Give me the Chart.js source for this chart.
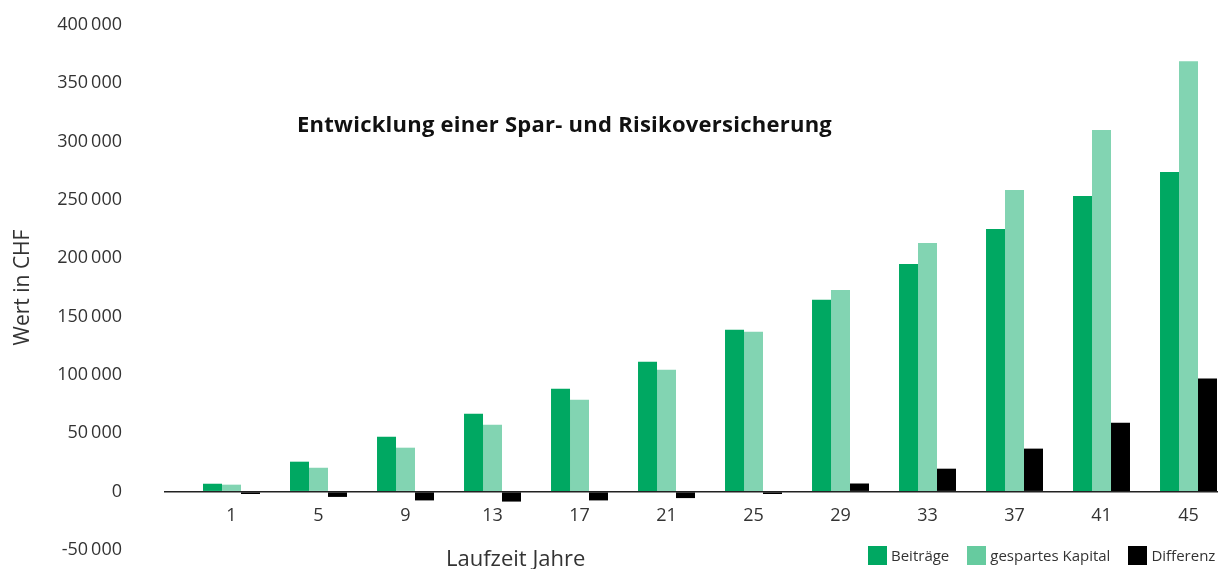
<!DOCTYPE html>
<html lang="de">
<head>
<meta charset="utf-8">
<title>Entwicklung einer Spar- und Risikoversicherung</title>
<script src="https://cdn.jsdelivr.net/npm/chart.js@4.4.1/dist/chart.umd.min.js"></script>
<style>
    html, body { margin: 0; padding: 0; background: #fff; }
    body { font-family: "Open Sans", sans-serif; color: #333; }
    .wrap { position: relative; width: 1218px; height: 569px; overflow: hidden; }
    canvas { display: block; }
    .chart-title { position: absolute; left: 297px; top: 109px; font-size: 22px; font-weight: 700; letter-spacing: 0.25px; line-height: 28px; color: #111; white-space: nowrap; }
    .x-title { position: absolute; left: 446px; top: 543px; font-size: 22px; line-height: 28px; white-space: nowrap; }
    .legend { position: absolute; left: 868px; top: 546px; display: flex; font-size: 15px; line-height: 19px; white-space: nowrap; }
    .legend-item { display: flex; align-items: center; margin-right: 18px; }
    .legend-item i { display: block; width: 19px; height: 19px; margin-right: 4px; }
</style>
</head>
<body>
<div class="wrap">
    <canvas id="savingsChart" width="1218" height="569"></canvas>
    <div class="chart-title">Entwicklung einer Spar- und Risikoversicherung</div>
    <div class="x-title">Laufzeit Jahre</div>
    <div class="legend" id="legend"></div>
</div>
<script>
// Spar- und Risikoversicherung | Laufzeit 1–45 Jahre

// ===================================================
// 1) Daten (CHF)
// ===================================================

const years = [1, 5, 9, 13, 17, 21, 25, 29, 33, 37, 41, 45];

const beitraege = [6800, 25700, 47100, 66800, 88200, 111300, 138700, 164400, 195200, 225100, 253400, 273900];
const kapital = [6000, 20500, 37700, 57400, 78800, 104400, 137000, 172900, 213100, 258500, 309900, 368900];
const differenz = [-2000, -4500, -7500, -8500, -7500, -5500, -2000, 7000, 19700, 36900, 59100, 96900];

const yMin = -50000;
const yMax = 400000;
const yStep = 50000;

// ===================================================
// 2) Farben & Hilfsfunktionen
// ===================================================

const GREEN = "#00A862";
const LIGHT_GREEN = "#82D4B2";
const BLACK = "#000000";
const TEXT = "#333333";

// 400000 -> "400 000" (schmales Leerzeichen)
function formatCHF(v) {
    return String(v).replace(/\B(?=(\d{3})+(?!\d))/g, "\u2009");
}

function toPoints(values) {
    return values.map((v, i) => ({ x: years[i], y: v }));
}

// ===================================================
// 3) Diagramm
// ===================================================

Chart.defaults.font.family = "'Open Sans', sans-serif";
Chart.defaults.color = TEXT;

const ctx = document.getElementById("savingsChart");

const chart = new Chart(ctx, {
    type: "bar",
    data: {
        datasets: [
            { label: "Beiträge", data: toPoints(beitraege), backgroundColor: GREEN, legendColor: GREEN },
            { label: "gespartes Kapital", data: toPoints(kapital), backgroundColor: LIGHT_GREEN, legendColor: "#66CB9F" },
            { label: "Differenz", data: toPoints(differenz), backgroundColor: BLACK, legendColor: BLACK }
        ]
    },
    options: {
        responsive: false,
        animation: false,
        layout: { padding: { top: 25, bottom: 19, left: 0, right: 0 } },
        datasets: {
            bar: { categoryPercentage: 0.655, barPercentage: 1 }
        },
        plugins: {
            legend: { display: false }
        },
        scales: {
            x: {
                type: "linear",
                position: { y: 0 },
                offset: false,
                // Achse etwas breiter als die Gruppen, wie im Original
                min: -2.104,
                max: 46.356,
                grid: { display: false },
                border: { display: false },
                afterBuildTicks: (axis) => {
                    axis.ticks = years.map(v => ({ value: v }));
                },
                ticks: {
                    padding: 5,
                    font: { size: 18 },
                    callback: (v) => String(v)
                }
            },
            y: {
                position: "left",
                min: yMin,
                max: yMax,
                border: { display: false },
                grid: {
                    // unsichtbare Tickmarken als Abstand zwischen Beschriftung und Diagramm
                    drawTicks: true,
                    tickLength: 42,
                    tickColor: "transparent",
                    lineWidth: 1.5,
                    color: (c) => (c.tick && c.tick.value === 0 ? "#222" : "transparent")
                },
                ticks: {
                    stepSize: yStep,
                    padding: 0,
                    font: { size: 18 },
                    callback: (v) => formatCHF(v)
                },
                title: {
                    display: true,
                    text: "Wert in CHF",
                    font: { size: 21 },
                    padding: { top: 10, bottom: 0 }
                },
                afterFit: (scale) => {
                    scale.width = 164;
                }
            }
        }
    }
});

// ===================================================
// 4) Legende — unten rechts, aus den Datensätzen
// ===================================================

function renderLegend(datasets) {

    const container = document.getElementById("legend");

    if (!container) return;

    container.innerHTML = datasets.map(d => `
        <div class="legend-item"><i style="background:${d.legendColor};"></i><span>${d.label}</span></div>
    `).join("");

}

renderLegend(chart.data.datasets);
</script>
</body>
</html>
